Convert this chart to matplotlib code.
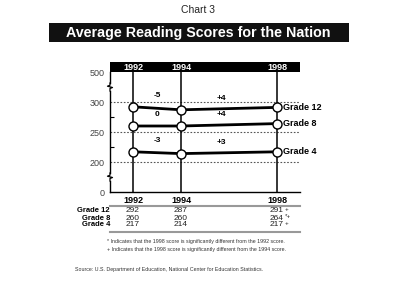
import numpy as np
import matplotlib
matplotlib.use('Agg')
import matplotlib.pyplot as plt
import matplotlib.transforms as mtransforms
from matplotlib.patches import Rectangle

# --- data ---
years = [1992, 1994, 1998]
grade12 = [292, 287, 291]
grade8 = [260, 260, 264]
grade4 = [217, 214, 217]
series_names = ['Grade 12', 'Grade 8', 'Grade 4']
changes = {'Grade 12': ['-5', '+4'], 'Grade 8': ['0', '+4'], 'Grade 4': ['-3', '+3']}
marks_1998 = {'Grade 12': '+', 'Grade 8': '*+', 'Grade 4': '+'}
y_ticks = [0, 200, 250, 300, 500]
dotted_levels = [200, 250, 300]
minor_levels = [225, 275]
break_levels = [100, 400]

plt.rcParams['font.family'] = ['Liberation Sans', 'DejaVu Sans']

# broken y axis: 0-200 and 300-500 squeezed
seg_v = [0, 200, 300, 500]
seg_d = [0, 30, 90, 120]


def fwd(v):
    return np.interp(v, seg_v, seg_d)


def inv(d):
    return np.interp(d, seg_d, seg_v)


W, H = 400, 308
fig = plt.figure(figsize=(W / 100, H / 100), dpi=100)


def fx(x):
    return x / W


def fy(y):
    return 1 - y / H


AX_W, AX_H = 190, 120
ax = fig.add_axes([fx(110), fy(192), AX_W / W, AX_H / H])
ax.set_yscale('function', functions=(fwd, inv))
ax.set_ylim(0, 500)
ax.set_xlim(1992 - 23 / 24, 1998 + 23 / 24)

for s in ['top', 'right']:
    ax.spines[s].set_visible(False)
ax.spines['left'].set_linewidth(1.0)
ax.spines['bottom'].set_linewidth(1.0)

ax.set_yticks(y_ticks)
ax.set_yticklabels([str(t) for t in y_ticks], color='#444444', fontsize=6.5)
ax.tick_params(axis='y', length=0, pad=4)
ax.set_yticks(minor_levels, minor=True)
ax.tick_params(axis='y', which='minor', direction='in', length=3, width=0.8)
ax.set_xticks(years)
ax.set_xticklabels([str(y) for y in years], fontsize=6.5, fontweight='bold')
ax.tick_params(axis='x', length=0, pad=3)

for lv in dotted_levels:
    ax.axhline(lv, color='#555555', lw=0.8, ls=(0, (1.5, 1.5)), zorder=1)

for yr in years:
    ax.axvline(yr, color='black', lw=1.1, zorder=2)

# axis break marks (small zigzag on the left spine)
zig_px = [(0, -4), (0, -1.5), (2.5, -0.5), (-2.5, 0.8), (0, 1.8), (0, 4)]
for lv in break_levels:
    y0 = ax.transAxes.inverted().transform(ax.transData.transform((1993, lv)))[1]
    xs = [dx / AX_W for dx, dy in zig_px]
    ys = [y0 + dy / AX_H for dx, dy in zig_px]
    ax.plot([0, 0], [y0 - 2 / AX_H, y0 + 2 / AX_H], transform=ax.transAxes, color='white',
            lw=2, clip_on=False, zorder=5)
    ax.plot(xs, ys, transform=ax.transAxes, color='black', lw=0.9, clip_on=False, zorder=6)

data = {'Grade 12': grade12, 'Grade 8': grade8, 'Grade 4': grade4}
for name in series_names:
    vals = data[name]
    ax.plot(years, vals, color='black', lw=2.0, marker='o', ms=6.5,
            mfc='white', mec='black', mew=1.0, zorder=4, clip_on=False)
    ax.annotate(name, (years[-1], vals[-1]), xytext=(4, 0), textcoords='offset points',
                fontsize=6.5, fontweight='bold', va='center', ha='left',
                annotation_clip=False)
    c1, c2 = changes[name]
    ax.annotate(c1, ((years[0] + years[1]) / 2, vals[0]), xytext=(0, 7),
                textcoords='offset points', fontsize=6, fontweight='bold', ha='center')
    ax.annotate(c2, (1995.7, vals[1]), xytext=(0, 7),
                textcoords='offset points', fontsize=6, fontweight='bold', ha='center')

# black header bar with years
bar = fig.add_axes([fx(110), fy(72), AX_W / W, 10 / H])
bar.set_facecolor('black')
bar.set_xlim(ax.get_xlim())
bar.set_ylim(0, 1)
bar.set_xticks([])
bar.set_yticks([])
for s in bar.spines.values():
    s.set_visible(False)
for yr in years:
    bar.text(yr, 0.5, str(yr), color='white', fontsize=6.5, fontweight='bold',
             ha='center', va='center')

# title
fig.text(fx(198), fy(10), 'Chart 3', fontsize=7.5, ha='center', va='center', color='#222222')
fig.patches.append(Rectangle((fx(49), fy(42)), 300 / W, 19 / H, transform=fig.transFigure,
                             facecolor='#111111', edgecolor='none'))
fig.text(fx(198), fy(32.5), 'Average Reading Scores for the Nation', color='white',
         fontsize=10.3, fontweight='bold', ha='center', va='center')

# table under chart
tr = mtransforms.blended_transform_factory(ax.transData, fig.transFigure)
fig.add_artist(plt.Line2D([fx(110), fx(300)], [fy(205.5)] * 2, color='#999999', lw=1.5))
fig.add_artist(plt.Line2D([fx(110), fx(300)], [fy(232)] * 2, color='#999999', lw=1.5))
row_y = [211, 218, 225]
for name, ry in zip(series_names, row_y):
    fig.text(fx(110), fy(ry), name, fontsize=5.5, fontweight='bold', ha='right', va='center')
    vals = data[name]
    for yr, v in zip(years, vals):
        fig.text(yr, fy(ry), str(v), transform=tr, fontsize=6, ha='center', va='center',
                 color='#222222')
    fig.text(years[-1] + 0.33, fy(ry - 1.5), marks_1998[name], transform=tr, fontsize=4.5,
             ha='left', va='center', color='#222222')

fig.text(fx(107), fy(242), '* Indicates that the 1998 score is significantly different from the 1992 score.',
         fontsize=3.8, ha='left', va='center', color='#333333')
fig.text(fx(107), fy(250), '+ Indicates that the 1998 score is significantly different from the 1994 score.',
         fontsize=3.8, ha='left', va='center', color='#333333')
fig.text(fx(75), fy(269), 'Source: U.S. Department of Education, National Center for Education Statistics.',
         fontsize=3.8, ha='left', va='center', color='#333333')

fig.savefig('out.png', dpi=100)
